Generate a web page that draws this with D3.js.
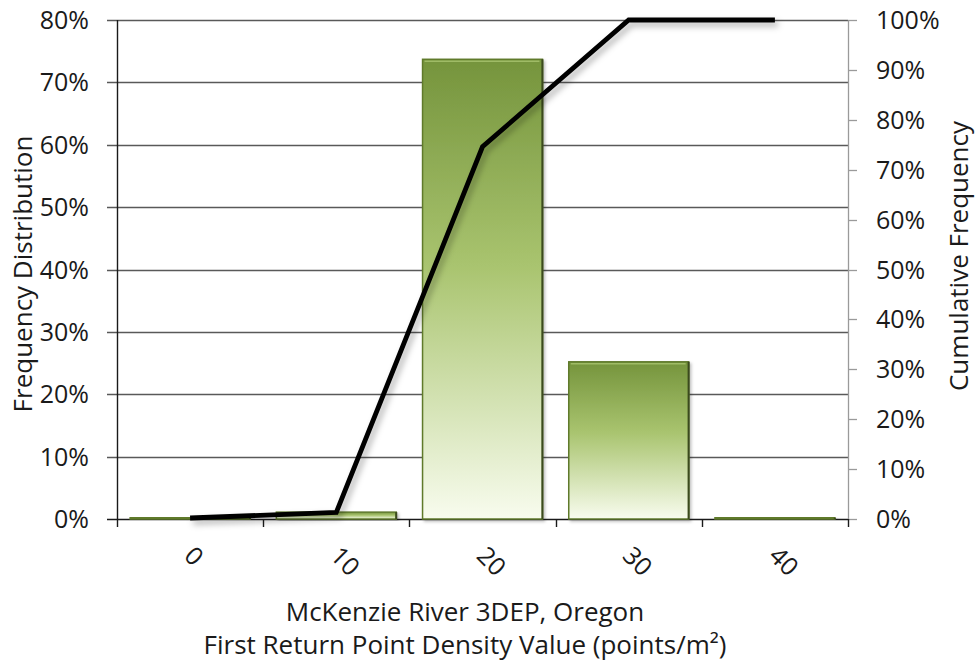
<!DOCTYPE html>
<html>
<head>
<meta charset="utf-8">
<script src="https://cdn.jsdelivr.net/npm/d3@7/dist/d3.min.js"></script>
<style>
  html, body { margin: 0; padding: 0; background: #fff; }
  svg text { font-family: "Open Sans", "Noto Sans", sans-serif; fill: #1a1a1a; }
</style>
</head>
<body>
<svg id="chart" width="979" height="671"></svg>
<script>
// Histogram bins (points/m²)
const categories = ["0", "10", "20", "30", "40"];
// Share of cells in each bin
const frequency = [0.002, 0.011, 0.737, 0.252, 0.002];
// Running total of the shares
const cumulative = [0.002, 0.013, 0.746, 1.0, 1.0];
const leftTicks = [0, 0.1, 0.2, 0.3, 0.4, 0.5, 0.6, 0.7, 0.8];
const rightTicks = [0, 0.1, 0.2, 0.3, 0.4, 0.5, 0.6, 0.7, 0.8, 0.9, 1.0];

const svg = d3.select("#chart");
const plotLeft = 117, plotRight = 848, plotTop = 20, plotBottom = 519;
const tickFont = 25, titleFont = 26;

const x = d3.scaleBand().domain(categories).range([plotLeft, plotRight])
  .paddingInner(0.18).paddingOuter(0.09);
const yL = d3.scaleLinear().domain([0, 0.8]).range([plotBottom, plotTop]);
const yR = d3.scaleLinear().domain([0, 1]).range([plotBottom, plotTop]);
const pct = d3.format(".0%");

const defs = svg.append("defs");
const grad = defs.append("linearGradient").attr("id", "barFill")
  .attr("x1", 0).attr("y1", 0).attr("x2", 0).attr("y2", 1);
grad.append("stop").attr("offset", "0%").attr("stop-color", "#75943c");
grad.append("stop").attr("offset", "45%").attr("stop-color", "#a9c46f");
grad.append("stop").attr("offset", "100%").attr("stop-color", "#f8fcee");

const shadow = defs.append("filter").attr("id", "shadow")
  .attr("x", "-10%").attr("y", "-10%").attr("width", "130%").attr("height", "130%");
shadow.append("feDropShadow").attr("dx", 3).attr("dy", 4).attr("stdDeviation", 3)
  .attr("flood-color", "#000").attr("flood-opacity", 0.3);

const barShadow = defs.append("filter").attr("id", "barShadow")
  .attr("x", "-10%").attr("y", "-10%").attr("width", "130%").attr("height", "130%");
barShadow.append("feDropShadow").attr("dx", 2).attr("dy", 2).attr("stdDeviation", 1.5)
  .attr("flood-color", "#000").attr("flood-opacity", 0.25);

// Horizontal gridlines on the left scale
svg.append("g").selectAll("line").data(leftTicks).join("line")
  .attr("x1", plotLeft - 10).attr("x2", plotRight)
  .attr("y1", d => Math.round(yL(d)) + 0.5).attr("y2", d => Math.round(yL(d)) + 0.5)
  .attr("stroke", d => d === 0 ? "#1a1a1a" : "#595959").attr("stroke-width", 1.4);

// Right axis: line and outward ticks
svg.append("line").attr("x1", plotRight + 0.5).attr("x2", plotRight + 0.5)
  .attr("y1", plotTop).attr("y2", plotBottom).attr("stroke", "#9a9a9a").attr("stroke-width", 1.3);
svg.append("g").selectAll("line").data(rightTicks).join("line")
  .attr("x1", plotRight).attr("x2", plotRight + 9)
  .attr("y1", d => Math.round(yR(d)) + 0.5).attr("y2", d => Math.round(yR(d)) + 0.5)
  .attr("stroke", "#9a9a9a").attr("stroke-width", 1.3);

// Bars
const bars = svg.append("g");
bars.selectAll("rect").data(categories).join("rect")
  .attr("x", d => x(d))
  .attr("y", (d, i) => yL(frequency[i]))
  .attr("width", x.bandwidth())
  .attr("height", (d, i) => plotBottom - yL(frequency[i]))
  .attr("fill", "url(#barFill)")
  .attr("stroke", "#5f7a2c").attr("stroke-width", 1.5)
  .attr("filter", "url(#barShadow)");
// bevel highlight along the top edge
bars.selectAll("line.hi").data(categories).join("line").attr("class", "hi")
  .attr("x1", d => x(d) + 2).attr("x2", d => x(d) + x.bandwidth() - 3)
  .attr("y1", (d, i) => yL(frequency[i]) + 2).attr("y2", (d, i) => yL(frequency[i]) + 2)
  .attr("stroke", "#9fbb66").attr("stroke-width", 1.5)
  .attr("opacity", (d, i) => frequency[i] > 0.02 ? 1 : 0);
// darker right edge
bars.selectAll("line.edge").data(categories).join("line").attr("class", "edge")
  .attr("x1", d => x(d) + x.bandwidth()).attr("x2", d => x(d) + x.bandwidth())
  .attr("y1", (d, i) => yL(frequency[i])).attr("y2", plotBottom)
  .attr("stroke", "#3b4a1e").attr("stroke-width", 2);

// Left axis line
svg.append("line").attr("x1", plotLeft + 0.5).attr("x2", plotLeft + 0.5)
  .attr("y1", plotTop).attr("y2", plotBottom + 8).attr("stroke", "#1a1a1a").attr("stroke-width", 1.4);

// Category boundary ticks
const bounds = categories.map(c => x(c) - x.step() * x.paddingInner() / 2).slice(1).concat([plotRight]);
svg.append("g").selectAll("line").data(bounds).join("line")
  .attr("x1", d => Math.round(d) + 0.5).attr("x2", d => Math.round(d) + 0.5)
  .attr("y1", plotBottom).attr("y2", plotBottom + 8)
  .attr("stroke", "#1a1a1a").attr("stroke-width", 1.4);

// Cumulative line
const line = d3.line()
  .x((d, i) => x(categories[i]) + x.bandwidth() / 2)
  .y(d => yR(d));
svg.append("path").datum(cumulative)
  .attr("d", line)
  .attr("fill", "none").attr("stroke", "#000").attr("stroke-width", 4.8)
  .attr("stroke-linejoin", "miter")
  .attr("filter", "url(#shadow)");

// Tick labels
svg.append("g").selectAll("text").data(leftTicks).join("text")
  .attr("x", 89).attr("y", d => yL(d)).attr("dy", "0.36em")
  .attr("text-anchor", "end").attr("font-size", tickFont).text(pct);
svg.append("g").selectAll("text").data(rightTicks).join("text")
  .attr("x", 876).attr("y", d => yR(d)).attr("dy", "0.36em")
  .attr("text-anchor", "start").attr("font-size", tickFont).text(pct);
svg.append("g").selectAll("text").data(categories).join("text")
  .attr("transform", d => `translate(${x(d) + x.bandwidth() / 2 - 1},${plotBottom + 32}) rotate(45)`)
  .attr("text-anchor", "start").attr("dy", "0.36em")
  .attr("font-size", tickFont).text(d => d);

// Axis titles
svg.append("text").attr("transform", "translate(32,274) rotate(-90)")
  .attr("text-anchor", "middle").attr("font-size", titleFont).text("Frequency Distribution");
svg.append("text").attr("transform", "translate(968,256) rotate(-90)")
  .attr("text-anchor", "middle").attr("font-size", titleFont).text("Cumulative Frequency");
svg.append("text").attr("x", 465).attr("y", 621)
  .attr("text-anchor", "middle").attr("font-size", titleFont).text("McKenzie River 3DEP, Oregon");
svg.append("text").attr("x", 465).attr("y", 654)
  .attr("text-anchor", "middle").attr("font-size", titleFont).text("First Return Point Density Value (points/m²)");
</script>
</body>
</html>
